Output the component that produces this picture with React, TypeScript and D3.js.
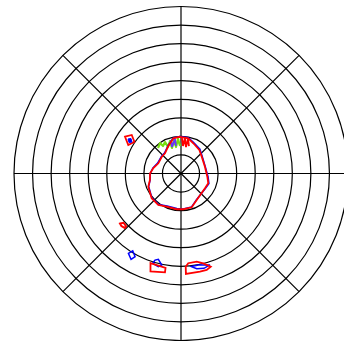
import React from "react";
import * as d3 from "d3";

type P = [number, number]; // [angle deg clockwise from north, radius in ring units]

const ringLevels = [1, 2, 3, 4, 5, 6, 7, 8, 9];
const spokeAngles = [0, 45, 90, 135, 180, 225, 270, 315];

const mainRed: P[] = [
  [358, 1.98], [11.7, 1.94], [22.2, 1.76], [37.9, 1.61], [50.9, 1.44], [74.2, 1.34],
  [96.9, 1.43], [109.7, 1.56], [121.7, 1.52], [149.4, 1.66], [162.4, 1.91], [176.3, 1.93],
  [186.8, 1.94], [203.3, 1.95], [215.8, 2.09], [229.8, 2.07], [248, 1.9], [258.2, 1.71],
  [270, 1.67], [281.2, 1.52], [294.2, 1.34], [310.5, 1.37], [321.6, 1.39], [335.2, 1.63],
  [347.7, 1.94],
];

const mainBlue: P[] = [
  [358, 2.0], [11.7, 1.97], [22.2, 1.8], [37.9, 1.66], [50.9, 1.47], [74.2, 1.36],
  [96.9, 1.47], [109.7, 1.6], [121.7, 1.54], [149.4, 1.64], [162.4, 1.89], [176.3, 1.92],
  [186.8, 1.9], [203.3, 1.9], [215.8, 2.06], [229.8, 2.05], [248, 1.88], [258.2, 1.7],
  [270, 1.66], [281.2, 1.54], [294.2, 1.38], [310.5, 1.4], [321.6, 1.42], [335.2, 1.66],
  [347.7, 1.96],
];

const upperLeftRed: P[] = [[303.3, 3.61], [308.0, 3.37], [304.3, 3.04], [298.4, 3.23]];
const upperLeftBlue: P[] = [[303.1, 3.41], [305.0, 3.29], [302.7, 3.14], [300.8, 3.26]];

const lowerLeftRed: P[] = [[230.6, 4.25], [229.4, 4.08], [226.2, 4.1], [226.0, 4.22], [228.6, 4.28]];
const lowerLeftBlue: P[] = [[213.4, 5.15], [212.0, 4.91], [208.9, 5.12], [210.2, 5.35]];

const midRed: P[] = [[198.8, 5.1], [189.3, 5.16], [189.2, 5.4], [197.3, 5.53]];
const midBlue: P[] = [[197.5, 5.07], [196.7, 4.87], [194.8, 4.78], [191.9, 5.04], [193.7, 5.17]];

const rightRed: P[] = [
  [177.1, 5.03], [175.4, 4.85], [169.9, 4.83], [166.1, 4.99], [162.3, 5.27],
  [165.1, 5.38], [169.1, 5.39], [177.2, 5.42],
];
const rightBlue: P[] = [[173.5, 5.05], [169.3, 5.02], [165.3, 5.1], [162.4, 5.17], [166.4, 5.26], [170.6, 5.2]];

const topGreen: P[] = [
  [318.0, 1.85], [325.5, 1.99], [326.8, 1.77], [333.1, 1.9], [333.9, 1.59], [341.3, 1.85],
  [340.6, 1.46], [348.2, 1.84], [349.3, 1.45], [355.0, 1.87], [358, 1.48],
];
const topRedStrokes: P[] = [[1.6, 1.91], [4.2, 1.49], [6.4, 1.92], [10.7, 1.45], [11.5, 1.9], [16.2, 1.54]];
const topBlueStrokes: P[] = [[343.4, 1.88], [341.2, 1.51], [350.1, 1.89], [349.7, 1.51]];

const W = 344;
const H = 341;
const cx = 181;
const cy = 173.5;
const outer = 167;

export default function App() {
  const r = d3.scaleLinear().domain([0, 9]).range([0, outer]);
  const toRad = (a: number) => (a * Math.PI) / 180;
  const closed = d3
    .lineRadial<P>()
    .angle((d) => toRad(d[0]))
    .radius((d) => r(d[1]))
    .curve(d3.curveLinearClosed);
  const open = d3
    .lineRadial<P>()
    .angle((d) => toRad(d[0]))
    .radius((d) => r(d[1]))
    .curve(d3.curveLinear);

  const RED = "#ff0000";
  const BLUE = "#0000ff";
  const GREEN = "#77dd11";

  return (
    <svg
      width={W}
      height={H}
      style={{ position: "absolute", left: 0, top: 0, background: "#fff" }}
    >
      <rect width={W} height={H} fill="#fff" />
      <g transform={`translate(${cx},${cy})`}>
        {ringLevels.map((lv) => (
          <circle key={lv} r={r(lv)} fill="none" stroke="#000" strokeWidth={1.2} />
        ))}
        {spokeAngles.map((a) => (
          <line
            key={a}
            x1={0}
            y1={0}
            x2={r(9) * Math.sin(toRad(a))}
            y2={-r(9) * Math.cos(toRad(a))}
            stroke="#000"
            strokeWidth={1.2}
          />
        ))}
        <path d={open(topGreen) || ""} fill="none" stroke={GREEN} strokeWidth={2.2} strokeLinejoin="round" />
        <path d={open(topBlueStrokes) || ""} fill="none" stroke="#6633ff" strokeWidth={1.8} />
        <path d={open(topRedStrokes) || ""} fill="none" stroke={RED} strokeWidth={1.8} />
        {[mainBlue, lowerLeftBlue, midBlue, rightBlue].map((c, i) => (
          <path key={"b" + i} d={closed(c) || ""} fill="none" stroke={BLUE} strokeWidth={1.5} />
        ))}
        {[mainRed, upperLeftRed, midRed, rightRed].map((c, i) => (
          <path key={"r" + i} d={closed(c) || ""} fill="none" stroke={RED} strokeWidth={1.8} />
        ))}
        <path d={closed(lowerLeftRed) || ""} fill="none" stroke={RED} strokeWidth={2} />
        <path d={closed(upperLeftBlue) || ""} fill={BLUE} stroke={BLUE} strokeWidth={1} />
      </g>
    </svg>
  );
}
